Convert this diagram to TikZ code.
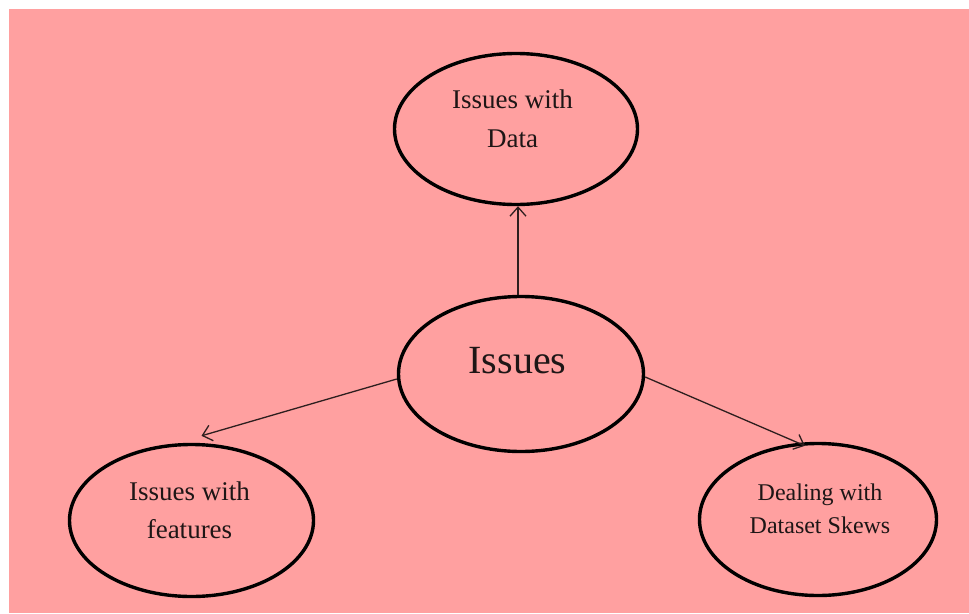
\documentclass[tikz,border=0pt]{standalone}
\usepackage{fontspec}
\setmainfont{Liberation Serif}
\usetikzlibrary{shapes.geometric,arrows.meta}
\definecolor{bgpink}{RGB}{255,160,160}
\definecolor{inkdark}{RGB}{30,22,22}
\definecolor{linkdark}{RGB}{45,30,30}
\begin{document}
\begin{tikzpicture}[x=1pt,y=-1pt,
  bubble/.style={ellipse,draw=black,line width=3.4pt,inner sep=0pt},
  caption/.style={anchor=base,align=center,text=inkdark,inner sep=0pt},
  linkarrow/.style={draw=linkdark,line width=1.3pt,
    -{Straight Barb[length=9pt,width=16pt,line width=1.3pt]}}]
  % canvas
  \useasboundingbox (0,0) rectangle (969,613);
  \fill[white] (0,0) rectangle (969,613);
  \fill[bgpink] (9,9) rectangle (969,613);

  % ellipses
  \node[bubble,minimum width=243pt,minimum height=151pt] (data) at (516,129) {};
  \node[bubble,minimum width=245pt,minimum height=155pt] (issues) at (521,374) {};
  \node[bubble,minimum width=244pt,minimum height=152pt] (feat) at (191.5,520.5) {};
  \node[bubble,minimum width=237pt,minimum height=152pt] (skew) at (818,519.5) {};

  % labels (base anchor sits on the last line)
  \node[caption,font=\fontsize{27}{39}\selectfont] (tdata) at (512.5,147) {Issues with\\Data};
  \node[caption,font=\fontsize{40}{46}\selectfont] (tissues) at (517.5,373) {Issues};
  \node[caption,font=\fontsize{27}{38}\selectfont] (tfeat) at (189.5,538) {Issues with\\features};
  \node[caption,font=\fontsize{24}{33}\selectfont] (tskew) at (820,533) {Dealing with\\Dataset Skews};

  % connectors
  \draw[linkarrow] (issues.north -| 518,0) -- (518,0 |- data.south);
  \draw[linkarrow] ([yshift=-5pt]issues.west) -- ([xshift=10pt,yshift=7pt]feat.north);
  \draw[linkarrow] ([yshift=-3pt]issues.east) -- ([xshift=-13pt,yshift=-4pt]skew.north);
\end{tikzpicture}
\end{document}
